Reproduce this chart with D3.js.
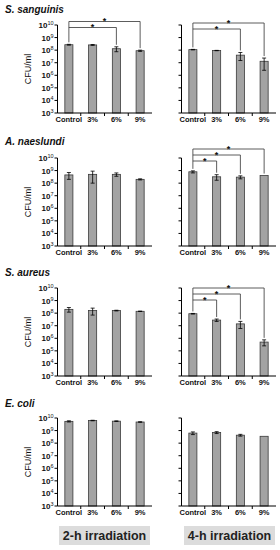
<!DOCTYPE html>
<html lang="en">
<head>
  <meta charset="UTF-8">
  <script src="https://cdn.jsdelivr.net/npm/d3@7"></script>
  <title>CFU after irradiation</title>
  <style>
    body { margin: 0; background: #fff; }
    text { font-family: "Liberation Sans", Arial, sans-serif; fill: #111; }
  </style>
</head>
<body>
  <svg width="280" height="550" id="chart"></svg>
  <script>
    // data (CFU/ml, mean and SD)
    let groups = ["Control", "3%", "6%", "9%"];
    let species = ["S. sanguinis", "A. naeslundi", "S. aureus", "E. coli"];
    let conditions = ["2-h irradiation", "4-h irradiation"];
    let decades = [3, 4, 5, 6, 7, 8, 9, 10];

    let mean2h = [
      [2.7e8, 2.6e8, 1.3e8, 9e7],
      [4.5e8, 5e8, 5e8, 2e8],
      [2e8, 1.6e8, 1.6e8, 1.4e8],
      [5.4e9, 6.3e9, 5.6e9, 4.8e9]
    ];
    let sd2h = [
      [0.2e8, 0.2e8, 0.55e8, 0.1e8],
      [2.5e8, 4e8, 1.5e8, 0.2e8],
      [0.8e8, 0.9e8, 0.1e8, 0.05e8],
      [0.6e9, 0.3e9, 0.3e9, 0.2e9]
    ];
    let mean4h = [
      [1.1e8, 9.3e7, 4e7, 1.3e7],
      [8e8, 3.2e8, 3e8, 4e8],
      [9e7, 2.8e7, 1.4e7, 5e5],
      [6.3e8, 7e8, 4.3e8, 3.5e8]
    ];
    let sd4h = [
      [0.05e8, 0.03e8, 2.5e7, 1.05e7],
      [1.5e8, 1.5e8, 0.8e8, 0],
      [0.5e7, 0.6e7, 0.8e7, 2.5e5],
      [1.5e8, 1.2e8, 0.7e8, 0]
    ];
    // groups significantly different from Control
    let sig2h = [["6%", "9%"], [], [], []];
    let sig4h = [["6%", "9%"], ["3%", "6%", "9%"], ["3%", "6%", "9%"], []];

    /* LAYOUT */
    let axisTop = [25, 158, 288, 418];
    let titleY = [13, 145, 276, 407];
    let plotH = 88;
    let cols = [{x0: 57.5, x1: 152}, {x0: 181.5, x1: 276}];
    let bracketTop = [[-3.5, -2], [0, -9], [0, 0], [0, 0]];

    let svg = d3.select("#chart");

    function panel(row, col, means, sds, sig) {
      let top = axisTop[row], bottom = top + plotH;
      let c = cols[col];
      let g = svg.append("g");

      let y = d3.scaleLog().domain([1e3, 1e10]).range([bottom, top]).clamp(true);
      let x = d3.scaleBand().domain(groups).range([c.x0 - 0.5, c.x1]).paddingInner(0.66).paddingOuter(0.33);

      // bars
      g.selectAll("rect").data(groups).enter().append("rect")
        .attr("x", d => x(d))
        .attr("width", x.bandwidth())
        .attr("y", (d, i) => y(means[i]))
        .attr("height", (d, i) => bottom - y(means[i]))
        .attr("fill", "#a3a3a3")
        .attr("stroke", "#3a3a3a")
        .attr("stroke-width", 0.8);

      // error bars
      groups.forEach((d, i) => {
        if (!sds[i]) return;
        let cx = x(d) + x.bandwidth() / 2;
        let hi = y(means[i] + sds[i]), lo = y(Math.max(means[i] - sds[i], 1e3));
        g.append("line").attr("x1", cx).attr("x2", cx).attr("y1", hi).attr("y2", lo)
          .attr("stroke", "#000").attr("stroke-width", 0.8);
        [hi, lo].forEach(v => g.append("line").attr("x1", cx - 2).attr("x2", cx + 2)
          .attr("y1", v).attr("y2", v).attr("stroke", "#000").attr("stroke-width", 0.8));
      });

      // y axis
      g.append("line").attr("x1", c.x0).attr("x2", c.x0).attr("y1", top).attr("y2", bottom)
        .attr("stroke", "#000");
      decades.forEach(e => {
        g.append("line").attr("x1", c.x0 - 3).attr("x2", c.x0)
          .attr("y1", y(Math.pow(10, e))).attr("y2", y(Math.pow(10, e))).attr("stroke", "#000");
        if (col == 0) {
          let t = g.append("text").attr("x", c.x0 - 4).attr("y", y(Math.pow(10, e)) + 3)
            .attr("text-anchor", "end").style("font-size", "8px").style("font-weight", "bold");
          t.append("tspan").text("10");
          t.append("tspan").text(e).attr("dy", -3).style("font-size", "5.5px").style("font-weight", "normal");
        }
      });
      if (col == 0) {
        g.append("text").text("CFU/ml")
          .attr("transform", "translate(" + (c.x0 - 27) + "," + (top + plotH / 2) + ") rotate(-90)")
          .attr("text-anchor", "middle").style("font-size", "9px");
      }

      // x axis
      g.append("line").attr("x1", c.x0).attr("x2", c.x1).attr("y1", bottom).attr("y2", bottom)
        .attr("stroke", "#000");
      groups.forEach((d, i) => {
        let bx = x(d) + x.bandwidth() / 2 + x.step() / 2;
        if (i < groups.length - 1) {
          g.append("line").attr("x1", bx).attr("x2", bx).attr("y1", bottom).attr("y2", bottom + 3)
            .attr("stroke", "#000");
        }
        g.append("text").text(d)
          .attr("x", x(d) + x.bandwidth() / 2).attr("y", bottom + 9)
          .attr("text-anchor", "middle").style("font-size", "7.5px").style("font-weight", "bold");
      });

      // significance brackets
      if (sig.length) {
        let cx0 = x("Control") + x.bandwidth() / 2;
        let topOf = i => y(means[i] + sds[i]);
        let levels = sig.slice().reverse();
        let firstY = top + bracketTop[row][col];
        levels.forEach((d, k) => {
          let ly = firstY + k * 6;
          let i = groups.indexOf(d);
          let cx = x(d) + x.bandwidth() / 2;
          g.append("line").attr("x1", cx0).attr("x2", cx).attr("y1", ly).attr("y2", ly)
            .attr("stroke", "#333").attr("stroke-width", 0.8);
          g.append("line").attr("x1", cx).attr("x2", cx).attr("y1", ly).attr("y2", topOf(i) - 2)
            .attr("stroke", "#333").attr("stroke-width", 0.8);
          g.append("text").text("*").attr("x", (cx0 + cx) / 2).attr("y", ly + 2.5)
            .attr("text-anchor", "middle").style("font-size", "9px").style("font-weight", "bold");
        });
        g.append("line").attr("x1", cx0).attr("x2", cx0).attr("y1", firstY).attr("y2", topOf(0) - 2)
          .attr("stroke", "#333").attr("stroke-width", 0.8);
      }
    }

    species.forEach((s, r) => {
      svg.append("text").text(s).attr("x", 5).attr("y", titleY[r])
        .style("font-size", "10px").style("font-weight", "bold").style("font-style", "italic");
      panel(r, 0, mean2h[r], sd2h[r], sig2h[r]);
      panel(r, 1, mean4h[r], sd4h[r], sig4h[r]);
    });

    // condition labels
    let boxX = [59, 184];
    conditions.forEach((t, i) => {
      svg.append("rect").attr("x", boxX[i]).attr("y", 526).attr("width", 91).attr("height", 19)
        .attr("fill", "#dcdcdc");
      svg.append("text").text(t).attr("x", boxX[i] + 45.5).attr("y", 540)
        .attr("text-anchor", "middle").style("font-size", "12.5px").style("font-weight", "bold")
        .style("fill", "#222");
    });
  </script>
</body>
</html>
